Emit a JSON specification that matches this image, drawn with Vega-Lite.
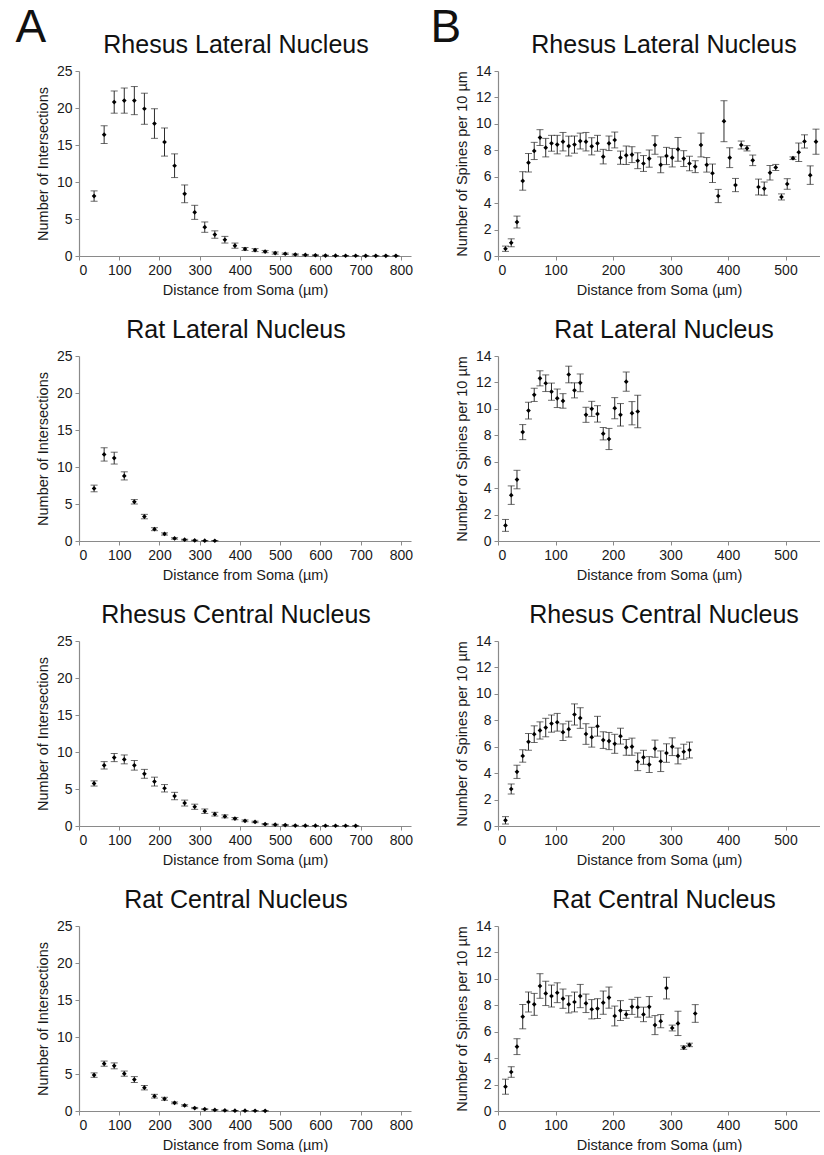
{
  "$schema": "https://vega.github.io/schema/vega-lite/v6.json",
  "background": "white",
  "padding": {"left": 15, "top": 5, "right": 0, "bottom": 0},
  "config": {
    "font": "Liberation Sans",
    "view": {"stroke": null},
    "axis": {"domainColor": "#8a8a8a", "tickColor": "#8a8a8a", "labelColor": "#1a1a1a", "titleColor": "#1a1a1a", "labelFontSize": 14, "titleFontSize": 14.5, "titleFontWeight": "normal", "grid": false, "tickSize": 4, "labelPadding": 3, "domainWidth": 1.2, "titlePadding": 6, "labelOverlap": false},
    "title": {"fontSize": 25, "fontWeight": "normal", "color": "#111111", "offset": 6}
  },
  "datasets": {
    "rla": [
      {"d": 37.5, "m": 8.1, "e": 0.7}, {"d": 62.5, "m": 16.4, "e": 1.2}, {"d": 87.5, "m": 20.8, "e": 1.5}, {"d": 112.5, "m": 21.0, "e": 1.7}, {"d": 137.5, "m": 21.0, "e": 1.9}, {"d": 162.5, "m": 19.9, "e": 2.1}, {"d": 187.5, "m": 17.9, "e": 2.0}, {"d": 212.5, "m": 15.4, "e": 1.9}, {"d": 237.5, "m": 12.2, "e": 1.6}, {"d": 262.5, "m": 8.4, "e": 1.2}, {"d": 287.5, "m": 5.9, "e": 0.95}, {"d": 312.5, "m": 3.9, "e": 0.7}, {"d": 337.5, "m": 2.9, "e": 0.5}, {"d": 362.5, "m": 2.2, "e": 0.45}, {"d": 387.5, "m": 1.4, "e": 0.35}, {"d": 412.5, "m": 0.95, "e": 0.2}, {"d": 437.5, "m": 0.8, "e": 0.2}, {"d": 462.5, "m": 0.6, "e": 0.15}, {"d": 487.5, "m": 0.4, "e": 0.15}, {"d": 512.5, "m": 0.3, "e": 0.1}, {"d": 537.5, "m": 0.2, "e": 0.08}, {"d": 562.5, "m": 0.15, "e": 0.06}, {"d": 587.5, "m": 0.1, "e": 0.05}, {"d": 612.5, "m": 0.06, "e": 0.04}, {"d": 637.5, "m": 0.04, "e": 0.03}, {"d": 662.5, "m": 0.03, "e": 0.02}, {"d": 687.5, "m": 0.03, "e": 0.02}, {"d": 712.5, "m": 0.02, "e": 0.02}, {"d": 737.5, "m": 0.02, "e": 0.01}, {"d": 762.5, "m": 0.02, "e": 0.01}, {"d": 787.5, "m": 0.02, "e": 0.01}
    ],
    "tla": [
      {"d": 37.5, "m": 7.1, "e": 0.45}, {"d": 62.5, "m": 11.7, "e": 0.9}, {"d": 87.5, "m": 11.2, "e": 0.8}, {"d": 112.5, "m": 8.8, "e": 0.55}, {"d": 137.5, "m": 5.3, "e": 0.3}, {"d": 162.5, "m": 3.3, "e": 0.3}, {"d": 187.5, "m": 1.6, "e": 0.2}, {"d": 212.5, "m": 0.95, "e": 0.15}, {"d": 237.5, "m": 0.35, "e": 0.1}, {"d": 262.5, "m": 0.18, "e": 0.06}, {"d": 287.5, "m": 0.08, "e": 0.04}, {"d": 312.5, "m": 0.04, "e": 0.02}, {"d": 337.5, "m": 0.03, "e": 0.02}
    ],
    "rca": [
      {"d": 37.5, "m": 5.75, "e": 0.35}, {"d": 62.5, "m": 8.2, "e": 0.5}, {"d": 87.5, "m": 9.25, "e": 0.55}, {"d": 112.5, "m": 9.0, "e": 0.6}, {"d": 137.5, "m": 8.2, "e": 0.65}, {"d": 162.5, "m": 7.05, "e": 0.6}, {"d": 187.5, "m": 6.0, "e": 0.6}, {"d": 212.5, "m": 5.1, "e": 0.5}, {"d": 237.5, "m": 4.05, "e": 0.5}, {"d": 262.5, "m": 3.1, "e": 0.4}, {"d": 287.5, "m": 2.6, "e": 0.35}, {"d": 312.5, "m": 2.0, "e": 0.3}, {"d": 337.5, "m": 1.6, "e": 0.25}, {"d": 362.5, "m": 1.3, "e": 0.2}, {"d": 387.5, "m": 1.0, "e": 0.15}, {"d": 412.5, "m": 0.7, "e": 0.12}, {"d": 437.5, "m": 0.55, "e": 0.1}, {"d": 462.5, "m": 0.25, "e": 0.08}, {"d": 487.5, "m": 0.18, "e": 0.06}, {"d": 512.5, "m": 0.13, "e": 0.05}, {"d": 537.5, "m": 0.06, "e": 0.03}, {"d": 562.5, "m": 0.05, "e": 0.03}, {"d": 587.5, "m": 0.04, "e": 0.02}, {"d": 612.5, "m": 0.03, "e": 0.02}, {"d": 637.5, "m": 0.03, "e": 0.02}, {"d": 662.5, "m": 0.03, "e": 0.01}, {"d": 687.5, "m": 0.02, "e": 0.01}
    ],
    "tca": [
      {"d": 37.5, "m": 4.85, "e": 0.3}, {"d": 62.5, "m": 6.4, "e": 0.35}, {"d": 87.5, "m": 6.1, "e": 0.4}, {"d": 112.5, "m": 5.05, "e": 0.35}, {"d": 137.5, "m": 4.25, "e": 0.4}, {"d": 162.5, "m": 3.15, "e": 0.3}, {"d": 187.5, "m": 2.0, "e": 0.25}, {"d": 212.5, "m": 1.65, "e": 0.2}, {"d": 237.5, "m": 1.1, "e": 0.12}, {"d": 262.5, "m": 0.75, "e": 0.1}, {"d": 287.5, "m": 0.4, "e": 0.08}, {"d": 312.5, "m": 0.25, "e": 0.06}, {"d": 337.5, "m": 0.15, "e": 0.04}, {"d": 362.5, "m": 0.08, "e": 0.03}, {"d": 387.5, "m": 0.05, "e": 0.02}, {"d": 412.5, "m": 0.04, "e": 0.02}, {"d": 437.5, "m": 0.03, "e": 0.01}, {"d": 462.5, "m": 0.02, "e": 0.01}
    ],
    "rlb": [
      {"d": 13, "m": 0.55, "e": 0.2}, {"d": 23, "m": 1.0, "e": 0.3}, {"d": 33, "m": 2.57, "e": 0.45}, {"d": 43, "m": 5.68, "e": 0.7}, {"d": 53, "m": 7.06, "e": 0.7}, {"d": 63, "m": 7.95, "e": 0.65}, {"d": 73, "m": 8.96, "e": 0.6}, {"d": 83, "m": 8.2, "e": 0.7}, {"d": 93, "m": 8.53, "e": 0.6}, {"d": 103, "m": 8.43, "e": 0.7},
      {"d": 113, "m": 8.65, "e": 0.7}, {"d": 123, "m": 8.32, "e": 0.75}, {"d": 133, "m": 8.43, "e": 0.65}, {"d": 143, "m": 8.7, "e": 0.6}, {"d": 153, "m": 8.65, "e": 0.7}, {"d": 163, "m": 8.3, "e": 0.65}, {"d": 173, "m": 8.53, "e": 0.6}, {"d": 183, "m": 7.52, "e": 0.55}, {"d": 193, "m": 8.53, "e": 0.55}, {"d": 203, "m": 8.78, "e": 0.6},
      {"d": 213, "m": 7.44, "e": 0.5}, {"d": 223, "m": 7.62, "e": 0.7}, {"d": 233, "m": 7.67, "e": 0.6}, {"d": 243, "m": 7.21, "e": 0.6}, {"d": 253, "m": 7.0, "e": 0.6}, {"d": 263, "m": 7.37, "e": 0.65}, {"d": 273, "m": 8.4, "e": 0.7}, {"d": 283, "m": 6.9, "e": 0.6}, {"d": 293, "m": 7.57, "e": 0.65}, {"d": 303, "m": 7.44, "e": 0.7},
      {"d": 313, "m": 8.07, "e": 0.9}, {"d": 323, "m": 7.37, "e": 0.6}, {"d": 333, "m": 7.0, "e": 0.55}, {"d": 343, "m": 6.76, "e": 0.45}, {"d": 353, "m": 8.4, "e": 0.9}, {"d": 363, "m": 6.9, "e": 0.55}, {"d": 373, "m": 6.26, "e": 0.7}, {"d": 383, "m": 4.54, "e": 0.5}, {"d": 393, "m": 10.2, "e": 1.55}, {"d": 403, "m": 7.44, "e": 0.75},
      {"d": 413, "m": 5.37, "e": 0.5}, {"d": 423, "m": 8.4, "e": 0.3}, {"d": 433, "m": 8.15, "e": 0.2}, {"d": 443, "m": 7.24, "e": 0.4}, {"d": 453, "m": 5.22, "e": 0.6}, {"d": 463, "m": 5.1, "e": 0.5}, {"d": 473, "m": 6.3, "e": 0.55}, {"d": 483, "m": 6.7, "e": 0.23}, {"d": 493, "m": 4.47, "e": 0.23}, {"d": 503, "m": 5.45, "e": 0.4},
      {"d": 513, "m": 7.4, "e": 0.1}, {"d": 523, "m": 7.85, "e": 0.7}, {"d": 533, "m": 8.67, "e": 0.5}, {"d": 543, "m": 6.12, "e": 0.7}, {"d": 553, "m": 8.65, "e": 0.95}
    ],
    "tlb": [
      {"d": 13, "m": 1.18, "e": 0.45}, {"d": 23, "m": 3.47, "e": 0.7}, {"d": 33, "m": 4.65, "e": 0.7}, {"d": 43, "m": 8.24, "e": 0.57}, {"d": 53, "m": 9.87, "e": 0.63}, {"d": 63, "m": 11.06, "e": 0.5}, {"d": 73, "m": 12.31, "e": 0.57}, {"d": 83, "m": 11.94, "e": 0.63}, {"d": 93, "m": 11.3, "e": 0.65}, {"d": 103, "m": 10.8, "e": 0.7},
      {"d": 113, "m": 10.6, "e": 0.55}, {"d": 123, "m": 12.6, "e": 0.63}, {"d": 133, "m": 11.4, "e": 0.57}, {"d": 143, "m": 11.97, "e": 0.67}, {"d": 153, "m": 9.55, "e": 0.57}, {"d": 163, "m": 10.0, "e": 0.57}, {"d": 173, "m": 9.62, "e": 0.62}, {"d": 183, "m": 8.12, "e": 0.47}, {"d": 193, "m": 7.72, "e": 0.8}, {"d": 203, "m": 10.05, "e": 0.8},
      {"d": 213, "m": 9.55, "e": 0.85}, {"d": 223, "m": 12.06, "e": 0.72}, {"d": 233, "m": 9.67, "e": 0.88}, {"d": 243, "m": 9.8, "e": 1.23}
    ],
    "rcb": [
      {"d": 13, "m": 0.43, "e": 0.28}, {"d": 23, "m": 2.8, "e": 0.38}, {"d": 33, "m": 4.1, "e": 0.5}, {"d": 43, "m": 5.3, "e": 0.47}, {"d": 53, "m": 6.37, "e": 0.63}, {"d": 63, "m": 6.95, "e": 0.63}, {"d": 73, "m": 7.23, "e": 0.65}, {"d": 83, "m": 7.45, "e": 0.7}, {"d": 93, "m": 7.75, "e": 0.65}, {"d": 103, "m": 7.85, "e": 0.67},
      {"d": 113, "m": 7.1, "e": 0.63}, {"d": 123, "m": 7.33, "e": 0.6}, {"d": 133, "m": 8.44, "e": 0.8}, {"d": 143, "m": 8.17, "e": 0.78}, {"d": 153, "m": 6.96, "e": 0.78}, {"d": 163, "m": 6.72, "e": 0.75}, {"d": 173, "m": 7.55, "e": 0.75}, {"d": 183, "m": 6.5, "e": 0.63}, {"d": 193, "m": 6.43, "e": 0.65}, {"d": 203, "m": 6.22, "e": 0.72},
      {"d": 213, "m": 6.8, "e": 0.6}, {"d": 223, "m": 5.95, "e": 0.6}, {"d": 233, "m": 6.0, "e": 0.65}, {"d": 243, "m": 4.86, "e": 0.67}, {"d": 253, "m": 5.2, "e": 0.53}, {"d": 263, "m": 4.65, "e": 0.6}, {"d": 273, "m": 5.85, "e": 0.65}, {"d": 283, "m": 4.9, "e": 0.78}, {"d": 293, "m": 5.52, "e": 0.7}, {"d": 303, "m": 6.0, "e": 0.67},
      {"d": 313, "m": 5.3, "e": 0.6}, {"d": 323, "m": 5.62, "e": 0.57}, {"d": 333, "m": 5.75, "e": 0.6}
    ],
    "tcb": [
      {"d": 13, "m": 1.84, "e": 0.57}, {"d": 23, "m": 2.95, "e": 0.4}, {"d": 33, "m": 4.87, "e": 0.6}, {"d": 43, "m": 7.14, "e": 0.92}, {"d": 53, "m": 8.25, "e": 0.75}, {"d": 63, "m": 8.07, "e": 0.83}, {"d": 73, "m": 9.46, "e": 0.93}, {"d": 83, "m": 8.9, "e": 0.92}, {"d": 93, "m": 8.7, "e": 0.83}, {"d": 103, "m": 8.95, "e": 0.75},
      {"d": 113, "m": 8.5, "e": 0.73}, {"d": 123, "m": 8.07, "e": 0.65}, {"d": 133, "m": 8.25, "e": 0.75}, {"d": 143, "m": 8.7, "e": 0.88}, {"d": 153, "m": 8.15, "e": 0.7}, {"d": 163, "m": 7.7, "e": 0.73}, {"d": 173, "m": 7.75, "e": 0.75}, {"d": 183, "m": 8.2, "e": 0.88}, {"d": 193, "m": 8.58, "e": 0.8}, {"d": 203, "m": 7.19, "e": 0.75},
      {"d": 213, "m": 7.6, "e": 0.75}, {"d": 223, "m": 7.31, "e": 0.3}, {"d": 233, "m": 7.88, "e": 0.57}, {"d": 243, "m": 7.85, "e": 0.75}, {"d": 253, "m": 7.31, "e": 0.55}, {"d": 263, "m": 7.88, "e": 0.78}, {"d": 273, "m": 6.5, "e": 0.72}, {"d": 283, "m": 6.8, "e": 0.5}, {"d": 293, "m": 9.3, "e": 0.82}, {"d": 303, "m": 6.28, "e": 0.22},
      {"d": 313, "m": 6.63, "e": 0.92}, {"d": 323, "m": 4.8, "e": 0.13}, {"d": 333, "m": 5.0, "e": 0.13}, {"d": 343, "m": 7.38, "e": 0.67}
    ]
  },
  "spacing": 17,
  "hconcat": [
    {
      "title": {"text": "A", "anchor": "start", "frame": "bounds", "fontSize": 46, "dx": -20, "dy": 19, "offset": 0},
      "spacing": 21,
      "vconcat": [
        {"data": {"name": "rla"}, "width": 332, "height": 185, "title": {"text": "Rhesus Lateral Nucleus", "dx": -9},
         "layer": [
          {"mark": {"type": "errorbar", "ticks": {"size": 7}, "color": "#2e2e2e", "strokeWidth": 1.2}, "encoding": {"x": {"field": "d", "type": "quantitative", "scale": {"domain": [0, 825], "nice": false}, "axis": {"values": [0,100,200,300,400,500,600,700,800], "title": "Distance from Soma (µm)"}}, "y": {"field": "m", "type": "quantitative", "scale": {"domain": [0, 25], "nice": false}, "axis": {"values": [0,5,10,15,20,25], "title": "Number of Intersections"}}, "yError": {"field": "e"}}},
          {"mark": {"type": "point", "shape": "diamond", "filled": true, "size": 22, "color": "#000000", "opacity": 1}, "encoding": {"x": {"field": "d", "type": "quantitative", "axis": {"values": [0,100,200,300,400,500,600,700,800], "title": "Distance from Soma (µm)"}}, "y": {"field": "m", "type": "quantitative", "axis": {"values": [0,5,10,15,20,25], "title": "Number of Intersections"}}}}
         ]},
        {"data": {"name": "tla"}, "width": 332, "height": 185, "title": {"text": "Rat Lateral Nucleus", "dx": -9},
         "layer": [
          {"mark": {"type": "errorbar", "ticks": {"size": 7}, "color": "#2e2e2e", "strokeWidth": 1.2}, "encoding": {"x": {"field": "d", "type": "quantitative", "scale": {"domain": [0, 825], "nice": false}, "axis": {"values": [0,100,200,300,400,500,600,700,800], "title": "Distance from Soma (µm)"}}, "y": {"field": "m", "type": "quantitative", "scale": {"domain": [0, 25], "nice": false}, "axis": {"values": [0,5,10,15,20,25], "title": "Number of Intersections"}}, "yError": {"field": "e"}}},
          {"mark": {"type": "point", "shape": "diamond", "filled": true, "size": 22, "color": "#000000", "opacity": 1}, "encoding": {"x": {"field": "d", "type": "quantitative", "axis": {"values": [0,100,200,300,400,500,600,700,800], "title": "Distance from Soma (µm)"}}, "y": {"field": "m", "type": "quantitative", "axis": {"values": [0,5,10,15,20,25], "title": "Number of Intersections"}}}}
         ]},
        {"data": {"name": "rca"}, "width": 332, "height": 185, "title": {"text": "Rhesus Central Nucleus", "dx": -9},
         "layer": [
          {"mark": {"type": "errorbar", "ticks": {"size": 7}, "color": "#2e2e2e", "strokeWidth": 1.2}, "encoding": {"x": {"field": "d", "type": "quantitative", "scale": {"domain": [0, 825], "nice": false}, "axis": {"values": [0,100,200,300,400,500,600,700,800], "title": "Distance from Soma (µm)"}}, "y": {"field": "m", "type": "quantitative", "scale": {"domain": [0, 25], "nice": false}, "axis": {"values": [0,5,10,15,20,25], "title": "Number of Intersections"}}, "yError": {"field": "e"}}},
          {"mark": {"type": "point", "shape": "diamond", "filled": true, "size": 22, "color": "#000000", "opacity": 1}, "encoding": {"x": {"field": "d", "type": "quantitative", "axis": {"values": [0,100,200,300,400,500,600,700,800], "title": "Distance from Soma (µm)"}}, "y": {"field": "m", "type": "quantitative", "axis": {"values": [0,5,10,15,20,25], "title": "Number of Intersections"}}}}
         ]},
        {"data": {"name": "tca"}, "width": 332, "height": 185, "title": {"text": "Rat Central Nucleus", "dx": -9},
         "layer": [
          {"mark": {"type": "errorbar", "ticks": {"size": 7}, "color": "#2e2e2e", "strokeWidth": 1.2}, "encoding": {"x": {"field": "d", "type": "quantitative", "scale": {"domain": [0, 825], "nice": false}, "axis": {"values": [0,100,200,300,400,500,600,700,800], "title": "Distance from Soma (µm)"}}, "y": {"field": "m", "type": "quantitative", "scale": {"domain": [0, 25], "nice": false}, "axis": {"values": [0,5,10,15,20,25], "title": "Number of Intersections"}}, "yError": {"field": "e"}}},
          {"mark": {"type": "point", "shape": "diamond", "filled": true, "size": 22, "color": "#000000", "opacity": 1}, "encoding": {"x": {"field": "d", "type": "quantitative", "axis": {"values": [0,100,200,300,400,500,600,700,800], "title": "Distance from Soma (µm)"}}, "y": {"field": "m", "type": "quantitative", "axis": {"values": [0,5,10,15,20,25], "title": "Number of Intersections"}}}}
         ]}
      ]
    },
    {
      "title": {"text": "B", "anchor": "start", "frame": "bounds", "fontSize": 46, "dx": -24, "dy": 19, "offset": 0},
      "spacing": 21,
      "vconcat": [
        {"data": {"name": "rlb"}, "width": 322, "height": 185, "title": {"text": "Rhesus Lateral Nucleus", "dx": 5},
         "layer": [
          {"mark": {"type": "errorbar", "ticks": {"size": 7}, "color": "#2e2e2e", "strokeWidth": 1.2}, "encoding": {"x": {"field": "d", "type": "quantitative", "scale": {"domain": [0, 560], "nice": false}, "axis": {"values": [0,100,200,300,400,500], "title": "Distance from Soma (µm)"}}, "y": {"field": "m", "type": "quantitative", "scale": {"domain": [0, 14], "nice": false}, "axis": {"values": [0,2,4,6,8,10,12,14], "title": "Number of Spines per 10 µm"}}, "yError": {"field": "e"}}},
          {"mark": {"type": "point", "shape": "diamond", "filled": true, "size": 22, "color": "#000000", "opacity": 1}, "encoding": {"x": {"field": "d", "type": "quantitative", "axis": {"values": [0,100,200,300,400,500], "title": "Distance from Soma (µm)"}}, "y": {"field": "m", "type": "quantitative", "axis": {"values": [0,2,4,6,8,10,12,14], "title": "Number of Spines per 10 µm"}}}}
         ]},
        {"data": {"name": "tlb"}, "width": 322, "height": 185, "title": {"text": "Rat Lateral Nucleus", "dx": 5},
         "layer": [
          {"mark": {"type": "errorbar", "ticks": {"size": 7}, "color": "#2e2e2e", "strokeWidth": 1.2}, "encoding": {"x": {"field": "d", "type": "quantitative", "scale": {"domain": [0, 560], "nice": false}, "axis": {"values": [0,100,200,300,400,500], "title": "Distance from Soma (µm)"}}, "y": {"field": "m", "type": "quantitative", "scale": {"domain": [0, 14], "nice": false}, "axis": {"values": [0,2,4,6,8,10,12,14], "title": "Number of Spines per 10 µm"}}, "yError": {"field": "e"}}},
          {"mark": {"type": "point", "shape": "diamond", "filled": true, "size": 22, "color": "#000000", "opacity": 1}, "encoding": {"x": {"field": "d", "type": "quantitative", "axis": {"values": [0,100,200,300,400,500], "title": "Distance from Soma (µm)"}}, "y": {"field": "m", "type": "quantitative", "axis": {"values": [0,2,4,6,8,10,12,14], "title": "Number of Spines per 10 µm"}}}}
         ]},
        {"data": {"name": "rcb"}, "width": 322, "height": 185, "title": {"text": "Rhesus Central Nucleus", "dx": 5},
         "layer": [
          {"mark": {"type": "errorbar", "ticks": {"size": 7}, "color": "#2e2e2e", "strokeWidth": 1.2}, "encoding": {"x": {"field": "d", "type": "quantitative", "scale": {"domain": [0, 560], "nice": false}, "axis": {"values": [0,100,200,300,400,500], "title": "Distance from Soma (µm)"}}, "y": {"field": "m", "type": "quantitative", "scale": {"domain": [0, 14], "nice": false}, "axis": {"values": [0,2,4,6,8,10,12,14], "title": "Number of Spines per 10 µm"}}, "yError": {"field": "e"}}},
          {"mark": {"type": "point", "shape": "diamond", "filled": true, "size": 22, "color": "#000000", "opacity": 1}, "encoding": {"x": {"field": "d", "type": "quantitative", "axis": {"values": [0,100,200,300,400,500], "title": "Distance from Soma (µm)"}}, "y": {"field": "m", "type": "quantitative", "axis": {"values": [0,2,4,6,8,10,12,14], "title": "Number of Spines per 10 µm"}}}}
         ]},
        {"data": {"name": "tcb"}, "width": 322, "height": 185, "title": {"text": "Rat Central Nucleus", "dx": 5},
         "layer": [
          {"mark": {"type": "errorbar", "ticks": {"size": 7}, "color": "#2e2e2e", "strokeWidth": 1.2}, "encoding": {"x": {"field": "d", "type": "quantitative", "scale": {"domain": [0, 560], "nice": false}, "axis": {"values": [0,100,200,300,400,500], "title": "Distance from Soma (µm)"}}, "y": {"field": "m", "type": "quantitative", "scale": {"domain": [0, 14], "nice": false}, "axis": {"values": [0,2,4,6,8,10,12,14], "title": "Number of Spines per 10 µm"}}, "yError": {"field": "e"}}},
          {"mark": {"type": "point", "shape": "diamond", "filled": true, "size": 22, "color": "#000000", "opacity": 1}, "encoding": {"x": {"field": "d", "type": "quantitative", "axis": {"values": [0,100,200,300,400,500], "title": "Distance from Soma (µm)"}}, "y": {"field": "m", "type": "quantitative", "axis": {"values": [0,2,4,6,8,10,12,14], "title": "Number of Spines per 10 µm"}}}}
         ]}
      ]
    }
  ]
}
